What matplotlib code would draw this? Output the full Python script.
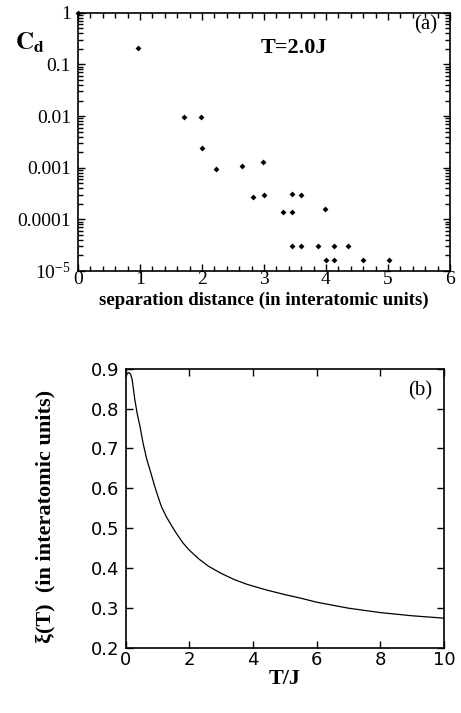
import matplotlib
matplotlib.use('Agg')
import matplotlib.pyplot as plt
from matplotlib.ticker import FixedLocator, FixedFormatter, MultipleLocator, NullFormatter

plt.rcParams['mathtext.fontset'] = 'stix'

# panel (a): correlation vs separation distance
sep_x = [0, 0.97, 1.71, 1.98, 2.0, 2.23, 2.65, 2.99, 2.82, 3.0, 3.31, 3.46, 3.46, 3.6, 3.99,
         3.46, 3.6, 3.88, 4.13, 4.35, 4.0, 4.13, 4.59, 5.01]
cd_y = [1.0, 0.21, 0.0097, 0.0097, 0.00245, 0.00095, 0.0011, 0.0013, 0.000275, 0.00029,
        0.00014, 0.00014, 0.00031, 0.0003, 0.000158,
        3.1e-5, 3.1e-5, 3.1e-5, 3.1e-5, 3.1e-5, 1.6e-5, 1.6e-5, 1.6e-5, 1.6e-5]
cd_ticks = [1, 0.1, 0.01, 0.001, 0.0001, 1e-5]
cd_labels = ['1', '0.1', '0.01', '0.001', '0.0001', r'$\mathregular{10^{-5}}$']

# panel (b): correlation length vs temperature
t_j = [0.0, 0.05, 0.1, 0.15, 0.2, 0.28, 0.36, 0.44, 0.54, 0.65, 0.8, 0.9, 1.0, 1.12, 1.28,
       1.45, 1.6, 1.8, 2.0, 2.3, 2.6, 3.0, 3.4, 3.8, 4.4, 5.0, 5.5, 6.0, 7.0, 8.0, 9.0, 10.0]
xi_t = [0.883, 0.888, 0.89, 0.886, 0.872, 0.823, 0.786, 0.757, 0.714, 0.675, 0.635, 0.607,
        0.582, 0.554, 0.528, 0.505, 0.486, 0.463, 0.445, 0.423, 0.405, 0.387, 0.372, 0.360,
        0.346, 0.334, 0.325, 0.315, 0.300, 0.289, 0.281, 0.275]

serif = 'Liberation Serif'
sans = 'DejaVu Sans'

fig = plt.figure(figsize=(4.61, 7.13), dpi=100)

# ---- top panel
ax1 = fig.add_axes([0.169, 0.620, 0.807, 0.362])
ax1.plot(sep_x, cd_y, 'D', color='black', markersize=3.0, markeredgewidth=0, clip_on=False)
ax1.set_yscale('log')
ax1.set_xlim(0, 6)
ax1.set_ylim(1e-5, 1)
ax1.xaxis.set_major_locator(MultipleLocator(1))
ax1.yaxis.set_major_locator(FixedLocator(cd_ticks))
ax1.yaxis.set_major_formatter(FixedFormatter(cd_labels))
ax1.minorticks_on()
ax1.xaxis.set_minor_locator(MultipleLocator(0.2))
minor_y = [k * 10.0 ** e for e in range(-5, 0) for k in range(2, 10)]
ax1.yaxis.set_minor_locator(FixedLocator(minor_y))
ax1.yaxis.set_minor_formatter(NullFormatter())
ax1.tick_params(which='major', direction='in', top=True, right=True,
                length=5, width=1.0)
ax1.tick_params(which='minor', direction='in', top=True, right=True,
                length=3.5, width=1.0, color='black')
ax1.tick_params(axis='x', which='major', pad=0)
ax1.tick_params(axis='y', which='major', pad=5)
for lab in ax1.get_xticklabels() + ax1.get_yticklabels():
    lab.set_fontfamily(serif)
    lab.set_fontsize(14)
for s in ax1.spines.values():
    s.set_linewidth(1.2)
ax1.set_xlabel('separation distance (in interatomic units)', fontfamily=serif,
               fontweight='bold', fontsize=13.5, labelpad=3)
ax1.text(-0.09, 0.885, r'$\mathbf{C_d}$', transform=ax1.transAxes, fontsize=18,
         ha='right', va='center')
ax1.text(0.58, 0.865, 'T=2.0J', transform=ax1.transAxes, fontfamily=serif,
         fontweight='bold', fontsize=16, ha='center', va='center')
ax1.text(0.935, 0.955, '(a)', transform=ax1.transAxes, fontfamily=serif,
         fontsize=15, ha='center', va='center')

# ---- bottom panel
ax2 = fig.add_axes([0.273, 0.091, 0.690, 0.392])
ax2.plot(t_j, xi_t, color='black', linewidth=0.9)
ax2.set_xlim(0, 10)
ax2.set_ylim(0.2, 0.9)
ax2.xaxis.set_major_locator(MultipleLocator(2))
ax2.yaxis.set_major_locator(MultipleLocator(0.1))
ax2.tick_params(which='both', direction='in', top=True, right=True, width=1.0, length=5)
ax2.tick_params(axis='x', pad=2)
ax2.tick_params(axis='y', pad=5)
for lab in ax2.get_xticklabels() + ax2.get_yticklabels():
    lab.set_fontfamily(sans)
    lab.set_fontsize(13)
for s in ax2.spines.values():
    s.set_linewidth(1.2)
ax2.set_xlabel('T/J', fontfamily=serif, fontweight='bold', fontsize=16, labelpad=0)
ax2.set_ylabel('ξ(T)  (in interatomic units)', fontfamily=serif, fontweight='bold',
               fontsize=16, labelpad=10)
ax2.yaxis.set_label_coords(-0.222, 0.47)
ax2.text(0.925, 0.92, '(b)', transform=ax2.transAxes, fontfamily=serif,
         fontsize=15, ha='center', va='center')

fig.savefig('out.png', dpi=100)
